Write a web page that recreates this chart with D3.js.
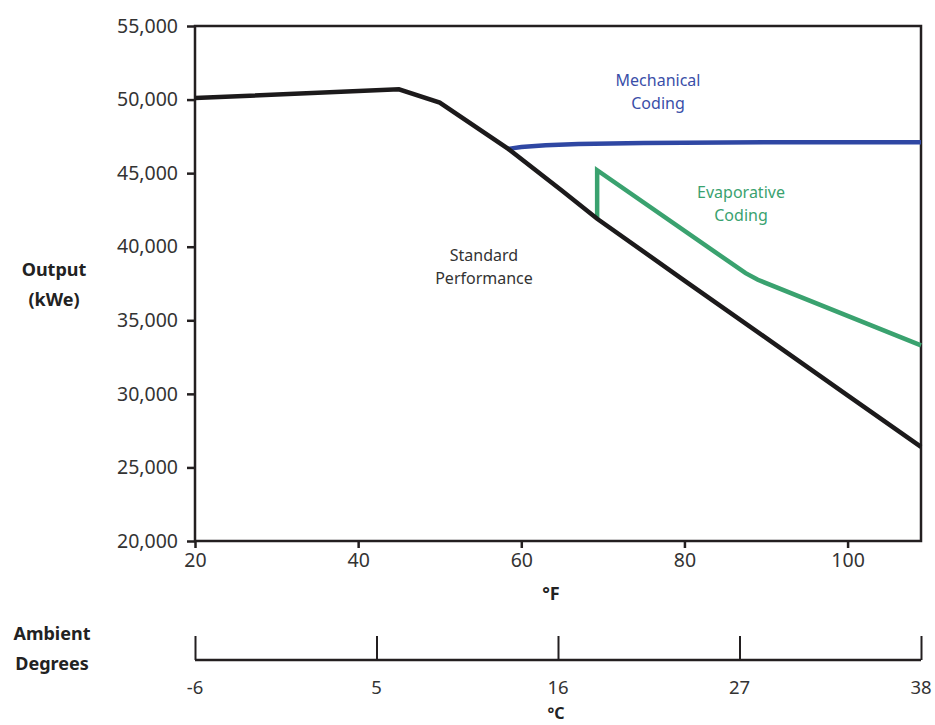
<!DOCTYPE html>
<html>
<head>
<meta charset="utf-8">
<script src="https://cdn.jsdelivr.net/npm/d3@7"></script>
<style>
  body { margin: 0; background: #fff; }
  svg text { font-family: "Noto Sans", sans-serif; fill: #333; }
  .bold { font-weight: bold; fill: #222; }
</style>
</head>
<body>
<div id="canvas"></div>
<script>
// data (°F, kWe)
var standard = [[20, 50100], [45, 50700], [50, 49800], [58.4, 46650], [65, 43800],
  [69.3, 41900], [80, 37700], [90, 33800], [100, 29900], [109, 26400]];
var mechanical = [[58.4, 46650], [60, 46780], [63, 46900], [67, 46980], [75, 47050],
  [90, 47100], [109, 47100]];
var evaporative = [[69.3, 41900], [69.3, 45200], [87.5, 38200], [89, 37750], [109, 33300]];
var fTicks = [20, 40, 60, 80, 100];
var cTicks = [-6, 5, 16, 27, 38];
var yTicks = [20000, 25000, 30000, 35000, 40000, 45000, 50000, 55000];

var svg = d3.select('#canvas').append('svg')
  .attr('width', 935)
  .attr('height', 725);

var x = d3.scaleLinear().domain([20, 109]).range([195, 921]);
var c = d3.scaleLinear().domain([-6, 38]).range([195, 921]);
var y = d3.scaleLinear().domain([20000, 55000]).range([541, 26]);

var fmt = d3.format(',');

// frame
svg.append('rect')
  .attr('x', 195).attr('y', 26)
  .attr('width', 921 - 195).attr('height', 541 - 26)
  .attr('fill', 'none').attr('stroke', '#231f20').attr('stroke-width', 2.5);

var yAxis = svg.append('g')
  .attr('transform', 'translate(195,0)')
  .call(d3.axisLeft(y).tickValues(yTicks).tickFormat(fmt).tickSize(8).tickPadding(9));
yAxis.select('.domain').remove();
yAxis.selectAll('line').attr('stroke', '#231f20').attr('stroke-width', 2.5);
yAxis.selectAll('text').attr('font-size', 19.5).attr('fill', '#333')
  .attr('font-family', '"Noto Sans", sans-serif');

var xAxis = svg.append('g')
  .attr('transform', 'translate(0,541)')
  .call(d3.axisBottom(x).tickValues(fTicks).tickSize(7).tickPadding(5));
xAxis.select('.domain').remove();
xAxis.selectAll('line').attr('stroke', '#231f20').attr('stroke-width', 2.5);
xAxis.selectAll('text').attr('font-size', 19.5).attr('fill', '#333')
  .attr('font-family', '"Noto Sans", sans-serif');

// celsius scale
var cAxis = svg.append('g')
  .attr('transform', 'translate(0,660)')
  .call(d3.axisTop(c).tickValues(cTicks).tickSize(24).tickFormat(''));
cAxis.select('.domain').attr('d', 'M195,0H921').attr('stroke', '#231f20').attr('stroke-width', 2.5);
cAxis.selectAll('line').attr('stroke', '#231f20').attr('stroke-width', 2);
svg.selectAll('.clab').data(cTicks).enter().append('text')
  .attr('class', 'clab')
  .attr('x', function(d) { return c(d); })
  .attr('y', 694)
  .attr('text-anchor', 'middle')
  .attr('font-size', 18.5)
  .text(function(d) { return d; });

// lines
var line = d3.line()
  .x(function(d) { return x(d[0]); })
  .y(function(d) { return y(d[1]); });

svg.append('path').datum(mechanical)
  .attr('d', line).attr('fill', 'none')
  .attr('stroke', '#2f47a3').attr('stroke-width', 4.5);
svg.append('path').datum(evaporative)
  .attr('d', line).attr('fill', 'none')
  .attr('stroke', '#3aa26f').attr('stroke-width', 4.5);
svg.append('path').datum(standard)
  .attr('d', line).attr('fill', 'none')
  .attr('stroke', '#1c1a1b').attr('stroke-width', 4.5);

// labels
function label(lines, cx, cy, color) {
  var t = svg.append('text').attr('text-anchor', 'middle').attr('font-size', 16)
    .style('fill', color);
  lines.forEach(function(s, i) {
    t.append('tspan').attr('x', cx).attr('y', cy + i * 23).text(s);
  });
}
label(['Mechanical', 'Coding'], 658, 86, '#3a4ea8');
label(['Evaporative', 'Coding'], 741, 198, '#3aa26f');
label(['Standard', 'Performance'], 484, 261, '#333');

svg.append('text').attr('class', 'bold').attr('x', 551).attr('y', 600)
  .attr('text-anchor', 'middle').attr('font-size', 18).text('°F');
svg.append('text').attr('class', 'bold').attr('x', 556).attr('y', 719)
  .attr('text-anchor', 'middle').attr('font-size', 16).text('°C');

var ytitle = svg.append('text').attr('class', 'bold').attr('text-anchor', 'middle').attr('font-size', 18);
ytitle.append('tspan').attr('x', 54).attr('y', 276).text('Output');
ytitle.append('tspan').attr('x', 54).attr('y', 306).text('(kWe)');

var atitle = svg.append('text').attr('class', 'bold').attr('text-anchor', 'middle').attr('font-size', 18);
atitle.append('tspan').attr('x', 52).attr('y', 640).text('Ambient');
atitle.append('tspan').attr('x', 52).attr('y', 670).text('Degrees');
</script>
</body>
</html>
